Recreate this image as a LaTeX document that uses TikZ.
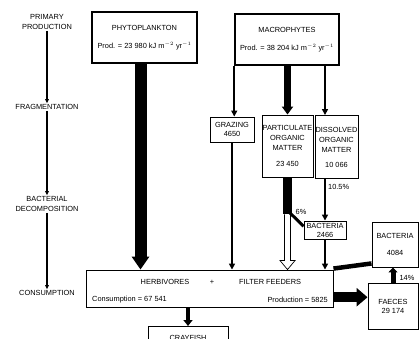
\documentclass[tikz,border=0pt]{standalone}
\usepackage{fontspec}
\setmainfont{Liberation Sans}
\usetikzlibrary{arrows.meta,calc}

\begin{document}
\begin{tikzpicture}[x=1pt,y=-1pt,
  font=\fontsize{7.4}{10}\selectfont,
  stage/.style={align=center, inner sep=1pt},
  box/.style={draw, line width=0.9pt, align=center, inner sep=0pt},
  prodbox/.style={box, line width=1.5pt},
  flow/.style={line width=2.3pt, -{Triangle[length=6pt,width=6pt]}},
  stagearr/.style={line width=1.1pt, -{Triangle[length=4pt,width=3.5pt]}}]
\useasboundingbox (0,0) rectangle (420,338);

% Stages on the left
\node[stage] (prim) at (47,22) {PRIMARY\\PRODUCTION};
\node[stage] (frag) at (47,107) {FRAGMENTATION};
\node[stage] (decomp) at (47,204) {BACTERIAL\\DECOMPOSITION};
\node[stage] (cons) at (47,293) {CONSUMPTION};
\draw[stagearr] (prim.south) -- (frag.north);
\draw[stagearr] (frag.south) -- (decomp.north);
\draw[stagearr] (decomp.south) -- (cons.north);

% Producers
\node[prodbox, minimum width=105pt, minimum height=51pt] (phyto) at (144.5,37.5)
  {PHYTOPLANKTON\\[8pt]Prod. = 23 980 kJ m$^{-2}$ yr$^{-1}$};
\node[prodbox, minimum width=104pt, minimum height=51pt] (macro) at (287,39.5)
  {MACROPHYTES\\[8pt]Prod. = 38 204 kJ m$^{-2}$ yr$^{-1}$};

% Fragmentation boxes
\node[box, minimum width=44pt, minimum height=25pt] (grazing) at (232,129.5) {GRAZING\\[-1pt]4650};
\node[box, minimum width=51pt, minimum height=62pt] (pom) at (287.5,146)
  {PARTICULATE\\ORGANIC\\MATTER\\[6pt]23 450};
\node[box, minimum width=43pt, minimum height=63pt] (dom) at (336.5,147)
  {DISSOLVED\\ORGANIC\\MATTER\\[5pt]10 066};

% Bacteria, faeces
\node[box, minimum width=42pt, minimum height=18pt] (bact1) at (325,230) {BACTERIA\\[-1pt]2466};
\node[box, minimum width=46pt, minimum height=45pt] (bact2) at (395,244.5) {BACTERIA\\[7pt]4084};
\node[box, minimum width=50pt, minimum height=46pt] (faeces) at (393,306) {FAECES\\[-1pt]29 174};

% Consumers
\node[box, minimum width=247pt, minimum height=37pt] (main) at (209.5,288.5) {};
\node (herb) at (165,282) {HERBIVORES};
\node (plus) at (212,282) {+};
\node[anchor=west, inner sep=0pt] (filt) at (239,282) {FILTER FEEDERS};
\node[anchor=west, inner sep=0pt] (consum) at (92,299.5) {Consumption = 67 541};
\node[anchor=east, inner sep=0pt] (produc) at (328,300) {Production = 5825};
\node[box, anchor=north, minimum width=80pt, minimum height=22pt] (crayfish) at (188,326) {CRAYFISH};

% Flows from producers
\draw[line width=12pt, -{Triangle[length=13pt,width=17pt]}]
  ([xshift=-4pt]phyto.south) -- ([xshift=-4pt]phyto.south |- main.north);
\draw[flow] (macro.south west) -- (macro.south west |- grazing.north);
\draw[line width=7.5pt, -{Triangle[length=8pt,width=11pt]}] (pom.north |- macro.south) -- (pom.north);
\draw[flow, line width=2pt] (bact1.north |- macro.south) -- (bact1.north |- dom.north);

% Flows to consumers
\draw[flow] (grazing.south) -- (grazing.south |- main.north);
\coordinate (split) at ($(pom.south)+(0,37)$);
\coordinate (tip) at (split |- main.north);
\draw[line width=9pt] (pom.south) -- (split);
\draw[line width=0.7pt, fill=white] ($(split)+(-3,0)$) -- ($(tip)+(-3,-9)$) -- ($(tip)+(-7.5,-9)$)
  -- (tip) -- ($(tip)+(7.5,-9)$) -- ($(tip)+(3,-9)$) -- ($(split)+(3,0)$);
\draw[line width=3pt] ($(split)+(2,-2)$) -- ($(bact1.north west)!0.3!(bact1.south west)$);
\node (six) at (301,212) {6\%};
\draw[flow, line width=2pt] (bact1.north |- dom.south) -- (bact1.north);
\node[anchor=west, inner sep=0pt] (tenfive) at (328,187) {10.5\%};
\draw[flow] (bact1.south) -- (bact1.south |- main.north);

% Faeces and bacteria
\coordinate (out) at ($(main.south east)!0.27!(main.north east)$);
\draw[line width=10pt, -{Triangle[length=11pt,width=18pt]}] (out) -- (out -| faeces.west);
\draw[line width=5pt, -{Triangle[length=5pt,width=9pt]}] (faeces.north) -- (faeces.north |- bact2.south);
\node (fourteen) at (407,278) {14\%};
\draw[line width=4.5pt] ([yshift=1pt]main.north east) -- ($(bact2.south west)+(0,-4)$);

% To crayfish
\draw[line width=4.5pt, -{Triangle[length=6pt,width=9pt]}] (crayfish.north |- main.south) -- (crayfish.north);

\end{tikzpicture}
\end{document}
